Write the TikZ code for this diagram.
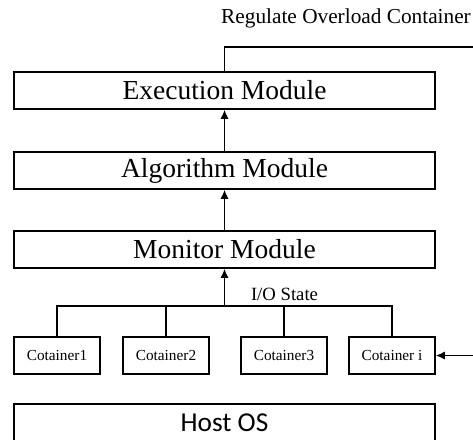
\documentclass[tikz,border=0pt]{standalone}
\usepackage{fontspec}
\setmainfont{Liberation Serif}
\newfontfamily\hostfont{Carlito}
\usetikzlibrary{arrows.meta}
\begin{document}
\begin{tikzpicture}[x=1pt,y=-1pt,
  line width=1.5pt,
  mod/.style={draw, minimum width=421pt, minimum height=37pt, inner sep=0pt, font=\fontsize{27.5}{30}\selectfont},
  cont/.style={draw, minimum width=86pt, minimum height=37pt, inner sep=0pt, font=\fontsize{15.3}{18}\selectfont},
  arr/.style={-{Latex[length=9pt,width=8pt]}},
  lbl/.style={inner sep=0pt}]
\useasboundingbox (0,0) rectangle (473,439);
\clip (0,0) rectangle (473,439);
\node[lbl, font=\fontsize{21.3}{24}\selectfont] (reg) at (346,18) {Regulate Overload Container};
\node[mod] (exec) at (224.5,90.5) {Execution Module};
\node[mod] (algo) at (224.5,170.5) {Algorithm Module};
\node[mod] (mon) at (224.5,249.5) {Monitor Module};
\node[cont] (c1) at (57,355.5) {Cotainer1};
\node[cont] (c2) at (166,355.5) {Cotainer2};
\node[cont] (c3) at (284,355.5) {Cotainer3};
\node[cont] (ci) at (392,355.5) {Cotainer i};
\node[draw, minimum width=421pt, minimum height=38pt, inner sep=0pt, font=\hostfont\fontsize{27.3}{30}\selectfont] (host) at (224.5,423) {Host OS};
\node[lbl, font=\fontsize{18.7}{21}\selectfont] (io) at (284.5,294) {I/O State};
\coordinate (topR) at (476,47);
\coordinate (rin) at (476,355.5);
\coordinate (bus) at (224.5,306);
\draw (exec.north) |- (topR);
\draw[arr] (algo.north) -- (exec.south);
\draw[arr] (mon.north) -- (algo.south);
\draw[arr] (bus) -- (mon.south);
\draw (c1.north) |- (bus);
\draw (c2.north) |- (bus);
\draw (c3.north) |- (bus);
\draw (ci.north) |- (bus);
\draw[arr] (rin) -- (ci.east);
\end{tikzpicture}
\end{document}
